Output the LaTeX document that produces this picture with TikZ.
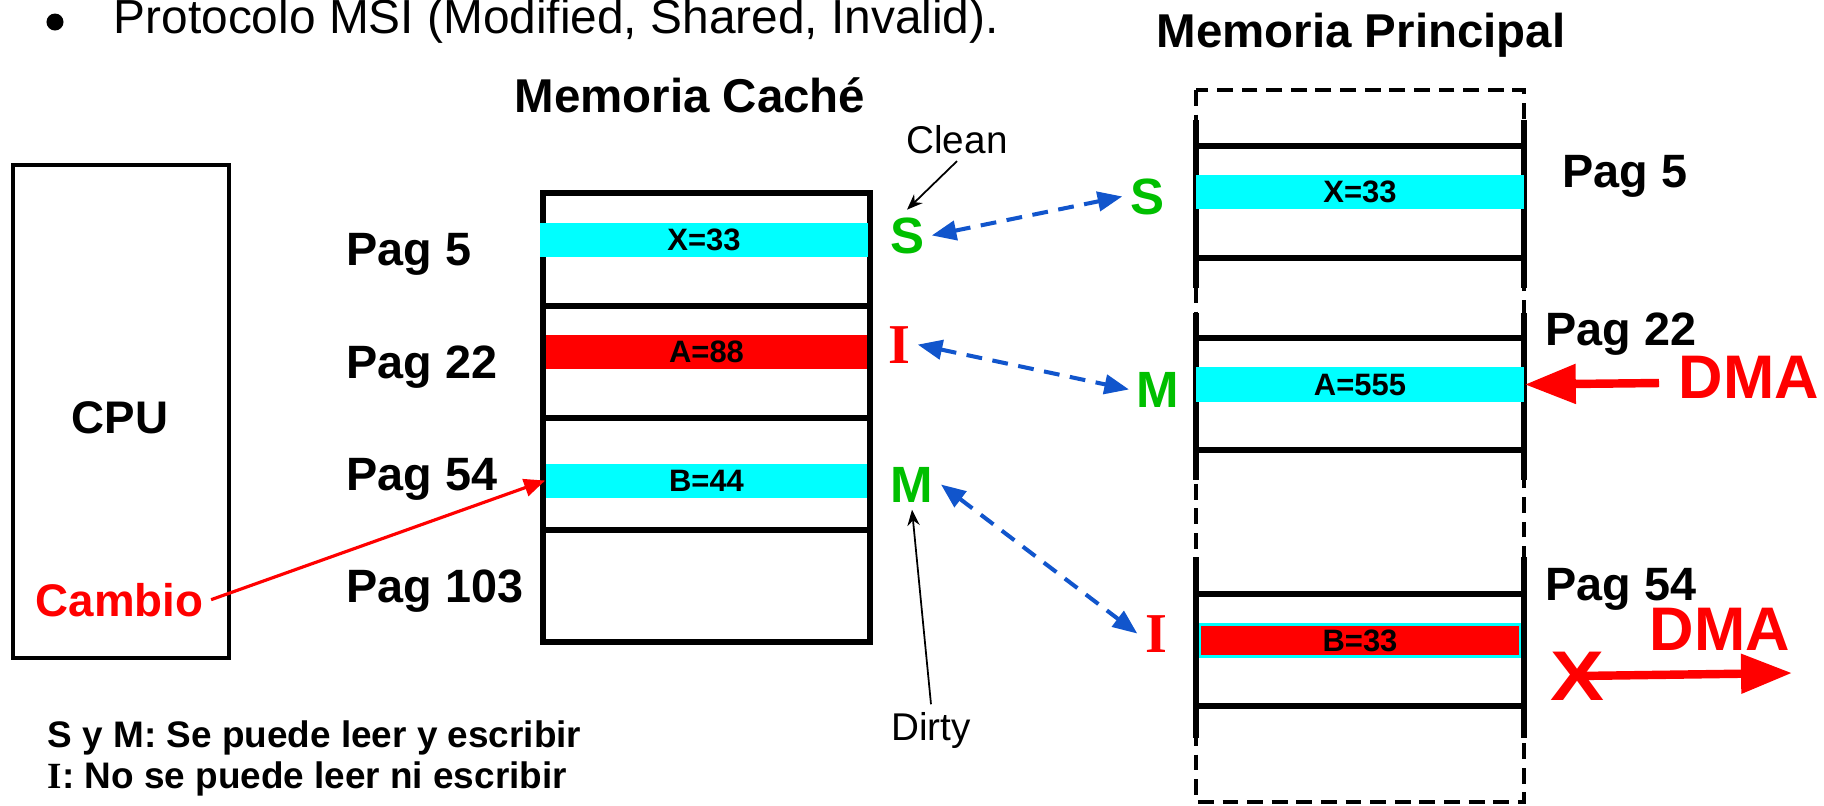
\documentclass[tikz,border=0pt]{standalone}
\usepackage{fontspec}
\setmainfont{Liberation Sans}
\newfontfamily\timesfont{Liberation Serif}
\usetikzlibrary{arrows.meta}
\definecolor{stgreen}{HTML}{00BF00}
\definecolor{hotred}{HTML}{FF0000}
\definecolor{barcyan}{HTML}{00FFFF}
\definecolor{linkblue}{HTML}{1155CC}

\begin{document}
\begin{tikzpicture}[
    x=0.01cm, y=-0.01cm,
    every node/.style={inner sep=2pt},
    title/.style={font=\fontsize{13.5}{16}\selectfont\bfseries, anchor=base},
    pag/.style={font=\fontsize{13.3}{16}\selectfont\bfseries, anchor=base west},
    note/.style={font=\fontsize{11}{13}\selectfont, anchor=base},
    legend/.style={font=\fontsize{10.5}{13}\selectfont\bfseries, anchor=base west},
    stok/.style={font=\fontsize{14.5}{17}\selectfont\bfseries, text=stgreen, anchor=base},
    sbad/.style={font=\fontsize{16}{18}\selectfont\timesfont\bfseries, text=hotred, anchor=base},
    bar/.style={minimum height=0.34cm, inner sep=0pt, font=\fontsize{8.8}{10}\selectfont\bfseries},
    cbar/.style={bar, fill=barcyan},
    rbar/.style={bar, fill=hotred},
    frame/.style={line width=1.5pt},
    mline/.style={line width=1.6pt},
    link/.style={linkblue, line width=1.15pt, dash pattern=on 4.5pt off 3pt,
                 {Triangle[length=7pt,width=5.5pt]}-{Triangle[length=7pt,width=5.5pt]}},
    hint/.style={line width=0.5pt, -{Stealth[length=4.5pt,width=3.5pt]}},
    dma/.style={hotred, line width=2.4pt, -{Triangle[length=14.5pt,width=10.8pt]}},
    dmatxt/.style={font=\fontsize{17.5}{21}\selectfont\bfseries, text=hotred, anchor=base west},
]
\useasboundingbox (0,0) rectangle (1824,805);

% ================================================ heading
\fill (55,22) circle[radius=0.085cm];
\node[anchor=base west, font=\fontsize{13.6}{16}\selectfont] (proto) at (106,33)
    {Protocolo MSI (Modified, Shared, Invalid).};
\node[title] (cachetitle) at (690,112) {Memoria Caché};
\node[title] (maintitle) at (1361,47) {Memoria Principal};

% ================================================ cpu
\draw[line width=1.4pt] (13,165) rectangle (229,658);
\node[title, font=\fontsize{13}{16}\selectfont\bfseries] (cpu) at (120,433) {CPU};
\node[pag, font=\fontsize{13}{16}\selectfont\bfseries, text=hotred] (cambio) at (28,616) {Cambio};

% ================================================ cache
\draw[frame] (543,193) rectangle (870,642);
\foreach \y in {306,418,530}{
    \draw[frame] (543,\y) -- (870,\y);
}
\foreach \n/\y in {5/265, 22/378, 54/490, 103/602}{
    \node[pag] (cp\n) at (339,\y) {Pag \n};
}
\node[cbar, minimum width=3.28cm] (x33c) at (704,240) {X=33};
\node[rbar, minimum width=3.21cm] (a88) at (706.5,352) {A=88};
\node[cbar, minimum width=3.21cm] (b44) at (706.5,480.5) {B=44};

\node[stok] (sC) at (907,253) {S};
\node[sbad] (iC) at (899,363) {I};
\node[stok] (mC) at (912,502) {M};

\node[note] (clean) at (957,153) {Clean};
\node[note] (dirty) at (931,740) {Dirty};
\draw[hint] (clean.south) -- (sC.north);
\draw[hint] (dirty.north) -- (mC.south);

\draw[hotred, line width=0.9pt, -{Triangle[length=6pt,width=5pt]}] (cambio.east) -- (b44.west);

% ================================================ main memory
\draw[line width=1.1pt, dash pattern=on 4.5pt off 2.5pt] (1196,90) rectangle (1524,802);
\foreach \a/\b in {120/288, 313/480, 557/738}{
    \draw[mline] (1196,\a) -- (1196,\b);
    \draw[mline] (1524,\a) -- (1524,\b);
}
\foreach \y in {146,258,338,450,594,706}{
    \draw[mline] (1196,\y) -- (1524,\y);
}
\node[cbar, minimum width=3.28cm] (x33m) at (1360,192) {X=33};
\node[cbar, minimum width=3.28cm, minimum height=0.35cm] (a555) at (1360,384.5) {A=555};
\node[rbar, draw=barcyan, line width=0.6pt, minimum width=3.2cm, minimum height=0.32cm] (b33) at (1360,640.5) {B=33};

\node[pag] (mp5) at (1555,187) {Pag 5};
\node[pag] (mp22) at (1538,345) {Pag 22};
\node[pag] (mp54) at (1538,600) {Pag 54};

\node[stok] (sM) at (1147,214) {S};
\node[stok] (mM) at (1158,407) {M};
\node[sbad] (iM) at (1156,652) {I};

% coherence links
\draw[link] (sC.east) -- (sM.west);
\draw[link] (iC.east) -- (mM.west);
\draw[link] (mC.east) -- (iM.west);

% ================================================ dma
\node[dmatxt] (dma1) at (1671,398) {DMA};
\coordinate (dmain) at (1659,383);
\draw[dma] (dmain) -- (a555.east);

\node[dmatxt] (dma2) at (1642,650) {DMA};
\node[font=\fontsize{20}{22}\selectfont\bfseries, text=hotred, inner sep=0pt] (xmark) at (1577,676) {\scalebox{1.15}[1]{X}};
\coordinate (dmaout) at (1792,673);
\draw[dma] (xmark.center) -- (dmaout);

% ================================================ legend
\node[legend] (leg1) at (40,747) {S y M: Se puede leer y escribir};
\node[legend] (leg2) at (40,788) {{\timesfont I}: No se puede leer ni escribir};

\end{tikzpicture}
\end{document}
